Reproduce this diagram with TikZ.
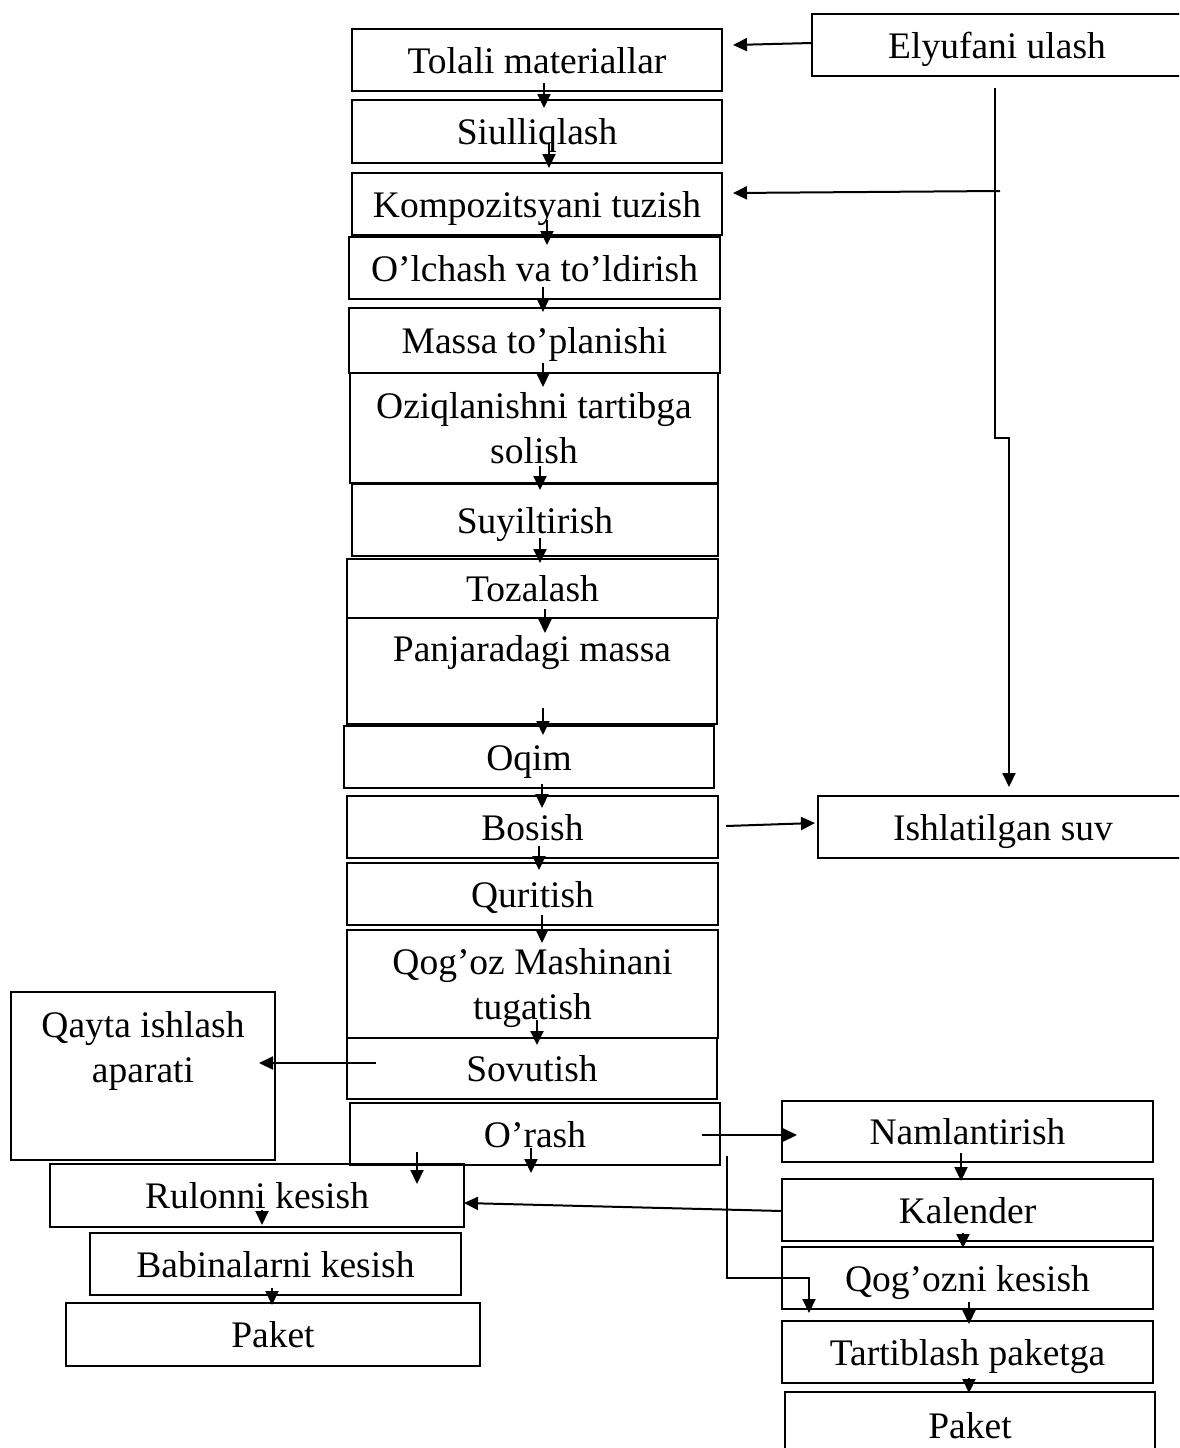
\documentclass[tikz,border=0pt]{standalone}
\usepackage{fontspec}
\setmainfont{Liberation Serif}
\usetikzlibrary{arrows.meta,calc}
\begin{document}
\begin{tikzpicture}[x=1pt,y=-1pt,
  base/.style={draw, line width=2.2pt, inner sep=0pt, outer sep=0pt, align=center,
               font=\fontsize{37.5}{45}\selectfont},
  box/.style={base, text height=26pt, text depth=0pt},
  mbox/.style={base},
  arr/.style={line width=2pt, -{Triangle[length=14pt,width=13pt]}}]
\useasboundingbox (0,0) rectangle (1179,1448);
\clip (0,0) rectangle (1179,1448);
\fill[white] (0,0) rectangle (1179,1448);
% main column
\node[box, minimum width=370pt, minimum height=62pt] (tolali) at (537,60) {Tolali materiallar};
\node[box, minimum width=370pt, minimum height=62pt] (elyu) at (997,45) {Elyufani ulash};
\node[box, minimum width=370pt, minimum height=63pt] (siul) at (537,131.5) {Siulliqlash};
\node[box, minimum width=370pt, minimum height=62pt] (kompoz) at (537,204) {Kompozitsyani tuzish};
\node[box, minimum width=371pt, minimum height=62pt] (olchash) at (534.5,268) {O’lchash va to’ldirish};
\node[box, minimum width=371pt, minimum height=65pt] (massa) at (534.5,340.5) {Massa to’planishi};
\node[mbox, minimum width=368pt, minimum height=110pt] (oziq) at (534,428) {Oziqlanishni tartibga\\solish};
\node[box, minimum width=366pt, minimum height=72pt] (suyil) at (535,520) {Suyiltirish};
\node[box, minimum width=371pt, minimum height=59pt] (tozal) at (532.5,588.5) {Tozalash};
\node[mbox, minimum width=370pt, minimum height=106pt] (panjara) at (532,671) {Panjaradagi massa\\\mbox{}};
\node[box, minimum width=370pt, minimum height=62pt] (oqim) at (529,757) {Oqim};
\node[box, minimum width=371pt, minimum height=62pt] (bosish) at (532.5,827) {Bosish};
\node[box, minimum width=370pt, minimum height=62pt] (ishl) at (1003,827) {Ishlatilgan suv};
\node[box, minimum width=371pt, minimum height=62pt] (qurit) at (532.5,894) {Quritish};
\node[mbox, minimum width=371pt, minimum height=108pt] (qogoz) at (532.5,984) {Qog’oz Mashinani\\\raisebox{0pt}[\height][0pt]{tugatish}};
\node[box, minimum width=370pt, minimum height=61pt] (sovut) at (532,1068.5) {Sovutish};
\node[mbox, minimum width=264pt, minimum height=168pt] (qayta) at (143,1076) {Qayta ishlash\\aparati\rule[-58pt]{0pt}{0pt}};
\node[box, minimum width=370pt, minimum height=62pt] (orash) at (535,1134) {O’rash};
% right branch
\node[box, minimum width=371pt, minimum height=61pt] (naml) at (967.5,1131.5) {Namlantirish};
\node[box, minimum width=371pt, minimum height=62pt] (kalen) at (967.5,1210) {Kalender};
\node[box, minimum width=371pt, minimum height=62pt] (qogk) at (967.5,1278) {Qog’ozni kesish};
\node[box, minimum width=371pt, minimum height=62pt] (tartib) at (967.5,1352) {Tartiblash paketga};
\node[box, minimum width=370pt, minimum height=66pt] (paketR) at (970,1425) {Paket};
% left branch
\node[box, minimum width=414pt, minimum height=63pt] (rulon) at (257,1195.5) {Rulonni kesish};
\node[box, minimum width=371pt, minimum height=62pt] (babin) at (275.5,1264) {Babinalarni kesish};
\node[box, minimum width=414pt, minimum height=63pt] (paketL) at (273,1334.5) {Paket};
% coordinates
\coordinate (bend) at (995,438);
\coordinate (bend2) at (1009,438);
\coordinate (br) at (1000,191);
% connectors
\draw[arr] ([yshift=2pt]elyu.west) -- ([xshift=11pt,yshift=15pt]tolali.east);
\draw[arr] ([xshift=-2pt,yshift=-12pt]elyu.south) -- (bend) -- (bend2) -- ([xshift=6pt,yshift=9pt]ishl.north);
\draw[arr] (br) -- ([xshift=11pt,yshift=11pt]kompoz.east);
\draw[arr] ([xshift=7pt,yshift=8pt]tolali.south) -- ([xshift=7pt,yshift=-8pt]siul.north);
\draw[arr] ([xshift=12pt,yshift=20pt]siul.south) -- ([xshift=12pt,yshift=5pt]kompoz.north);
\draw[arr] ([xshift=10pt,yshift=15pt]kompoz.south) -- ([xshift=12.5pt,yshift=-8pt]olchash.north);
\draw[arr] ([xshift=8.5pt,yshift=12pt]olchash.south) -- ([xshift=8.5pt,yshift=-4pt]massa.north);
\draw[arr] ([xshift=8.5pt,yshift=10pt]massa.south) -- ([xshift=9pt,yshift=-14pt]oziq.north);
\draw[arr] ([xshift=6pt,yshift=17pt]oziq.south) -- ([xshift=5pt,yshift=-6pt]suyil.north);
\draw[arr] ([xshift=5pt,yshift=18pt]suyil.south) -- ([xshift=7.5pt,yshift=-4pt]tozal.north);
\draw[arr] ([xshift=12.5pt,yshift=9pt]tozal.south) -- ([xshift=13pt,yshift=-15pt]panjara.north);
\draw[arr] ([xshift=11pt,yshift=16pt]panjara.south) -- ([xshift=14pt,yshift=-9pt]oqim.north);
\draw[arr] ([xshift=13pt,yshift=4pt]oqim.south) -- ([xshift=9.5pt,yshift=-12pt]bosish.north);
\draw[arr] ([xshift=6.5pt,yshift=12pt]bosish.south) -- ([xshift=6.5pt,yshift=-7pt]qurit.north);
\draw[arr] ([xshift=9.5pt,yshift=10pt]qurit.south) -- ([xshift=9.5pt,yshift=-13pt]qogoz.north);
\draw[arr] ([xshift=4.5pt,yshift=18pt]qogoz.south) -- ([xshift=5pt,yshift=-7pt]sovut.north);
\draw[arr] ([xshift=29pt,yshift=5.5pt]sovut.west) -- ([xshift=-16pt,yshift=13pt]qayta.east);
\draw[arr] ([xshift=8pt,yshift=1pt]bosish.east) -- ([xshift=-3pt,yshift=4pt]ishl.west);
\draw[arr] ([xshift=-18pt,yshift=-1pt]orash.east) -- ([xshift=15pt,yshift=-3.5pt]naml.west);
\draw[arr] ([xshift=-118pt,yshift=13pt]orash.south) -- ([xshift=160pt,yshift=-20pt]rulon.north);
\draw[arr] ([xshift=-4pt,yshift=17pt]orash.south) -- ([xshift=-4pt,yshift=-8pt]orash.south);
\draw[arr] ([yshift=-1pt]kalen.west) -- ([yshift=-7.5pt]rulon.east);
\draw[arr] ([xshift=7pt,yshift=-22pt]orash.east) |- ([xshift=-158.5pt]qogk.center) -- ([xshift=-158.5pt,yshift=-4pt]qogk.south);
\draw[arr] ([xshift=-6.5pt,yshift=9pt]naml.south) -- ([xshift=-6.5pt,yshift=-2pt]kalen.north);
\draw[arr] ([xshift=-4.5pt,yshift=8pt]kalen.south) -- ([xshift=-4.5pt,yshift=-1pt]qogk.north);
\draw[arr] ([xshift=1.5pt,yshift=7pt]qogk.south) -- ([xshift=1.5pt,yshift=-3pt]tartib.north);
\draw[arr] ([xshift=1.5pt,yshift=5pt]tartib.south) -- ([xshift=-1pt,yshift=-1pt]paketR.north);
\draw[arr] ([xshift=5pt,yshift=17pt]rulon.south) -- ([xshift=-13.5pt,yshift=8pt]babin.north);
\draw[arr] ([xshift=-3.5pt,yshift=7pt]babin.south) -- ([xshift=-1pt,yshift=-2pt]paketL.north);
\end{tikzpicture}
\end{document}
